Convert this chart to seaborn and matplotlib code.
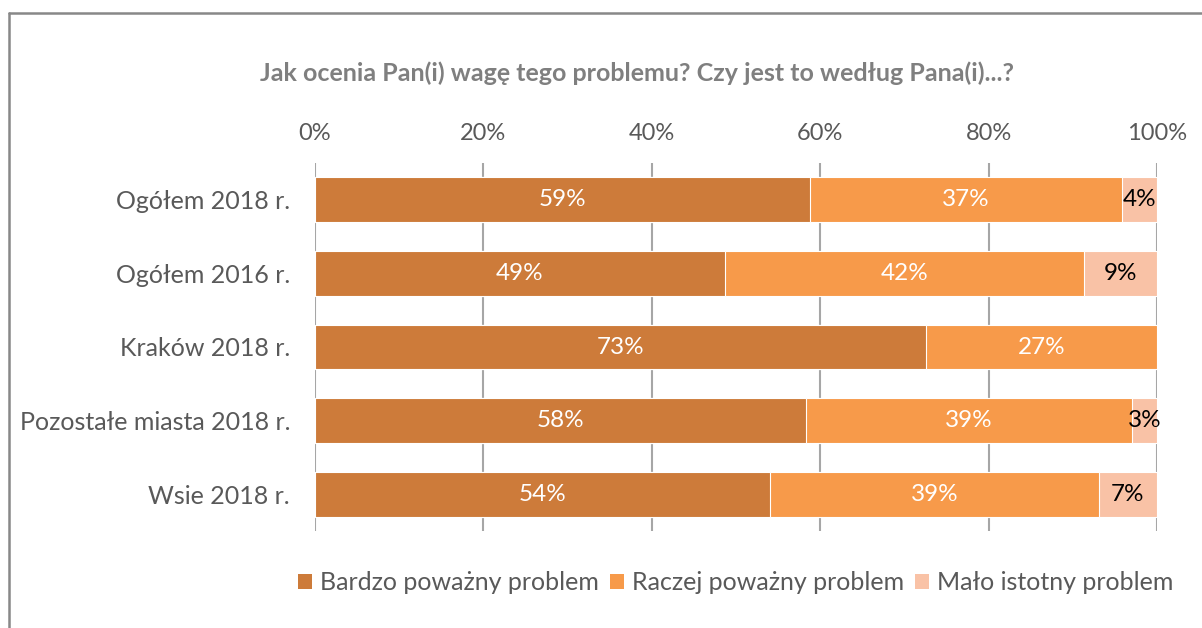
import matplotlib
matplotlib.use("Agg")
import matplotlib.pyplot as plt
import seaborn as sns
import pandas as pd
import numpy as np
from matplotlib.lines import Line2D
from matplotlib.patches import Patch

categories = ["Ogółem 2018 r.", "Ogółem 2016 r.", "Kraków 2018 r.",
              "Pozostałe miasta 2018 r.", "Wsie 2018 r."]
series_names = ["Bardzo poważny problem", "Raczej poważny problem", "Mało istotny problem"]
bardzo = [58.8, 48.7, 72.6, 58.3, 54.0]
raczej = [37.0, 42.6, 27.4, 38.7, 39.1]
malo = [4.2, 8.7, 0.0, 3.0, 6.9]
labels_bardzo = ["59%", "49%", "73%", "58%", "54%"]
labels_raczej = ["37%", "42%", "27%", "39%", "39%"]
labels_malo = ["4%", "9%", "", "3%", "7%"]
xticks = [0, 20, 40, 60, 80, 100]
xtick_labels = ["0%", "20%", "40%", "60%", "80%", "100%"]
title = "Jak ocenia Pan(i) wagę tego problemu? Czy jest to według Pana(i)...?"

colors = ["#CD7B3A", "#F79A4A", "#F9C2A6"]
text_gray = "#595959"
grid_gray = "#A6A6A6"

sns.set_theme(style="white")
plt.rcParams["font.family"] = ["Lato", "DejaVu Sans"]

df = pd.DataFrame({"cat": categories, "b": bardzo, "r": raczej, "m": malo})
df["c1"] = df["b"]
df["c2"] = df["b"] + df["r"]
df["c3"] = df["b"] + df["r"] + df["m"]

W, H = 1202, 628
fig = plt.figure(figsize=(W / 100, H / 100), dpi=100)
fig.patch.set_facecolor("white")
ax = fig.add_axes([315 / W, 1 - 531 / H, 842 / W, 368 / H])

ax.set_axisbelow(True)
for col, c in zip(["c3", "c2", "c1"], colors[::-1]):
    sns.barplot(data=df, y="cat", x=col, orient="h", color=c, width=0.61,
                edgecolor="white", linewidth=0.8, saturation=1, ax=ax, zorder=2)

ax.set_xlim(0, 100)
ax.set_ylim(len(categories) - 0.5, -0.5)
ax.set_xticks(xticks)
ax.set_xticklabels(xtick_labels)
ax.xaxis.tick_top()
ax.tick_params(axis="x", length=0, pad=14, labelsize=17, labelcolor=text_gray)
ax.tick_params(axis="y", length=0, pad=18, labelsize=18, labelcolor=text_gray)
ax.set_xlabel("")
ax.set_ylabel("")
for x in xticks:
    ax.axvline(x, color=grid_gray, lw=1.5, zorder=1)
for s in ax.spines.values():
    s.set_visible(False)

# data labels
fs = 17.5
for i in range(len(categories)):
    b, r, m = bardzo[i], raczej[i], malo[i]
    ax.text(b / 2, i, labels_bardzo[i], ha="center", va="center", color="white",
            fontsize=fs, zorder=5)
    ax.text(b + r / 2, i, labels_raczej[i], ha="center", va="center", color="white",
            fontsize=fs, zorder=5)
    if labels_malo[i]:
        ax.text(b + r + m / 2, i, labels_malo[i], ha="center", va="center", color="black",
                fontsize=fs, zorder=5)

fig.text(637 / W, 1 - 73 / H, title, ha="center", va="center", fontsize=18,
         fontweight="bold", color="#7F7F7F")

handles = [Patch(facecolor=c, edgecolor="none") for c in colors]
fig.legend(handles, series_names, loc="center", bbox_to_anchor=(736 / W, 1 - 583 / H),
           ncol=3, frameon=False, fontsize=18, handlelength=0.55, handleheight=0.55,
           handletextpad=0.32, columnspacing=0.45, labelcolor=text_gray)

# outer border (extends beyond image right/bottom)
fig.add_artist(Line2D([8.5 / W, 1.0], [1 - 12.5 / H, 1 - 12.5 / H], color="#888888", lw=1.8,
                      transform=fig.transFigure))
fig.add_artist(Line2D([8.5 / W, 8.5 / W], [0, 1 - 12.5 / H], color="#888888", lw=1.8,
                      transform=fig.transFigure))

fig.savefig("out.png", dpi=100)
